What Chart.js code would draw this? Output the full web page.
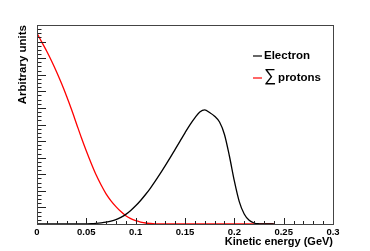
<!DOCTYPE html>
<html>
<head>
<meta charset="utf-8">
<script src="https://cdn.jsdelivr.net/npm/chart.js@4"></script>
<style>
  html, body { margin: 0; padding: 0; background: #fff; }
  #wrap { width: 370px; height: 251px; }
</style>
</head>
<body>
<div id="wrap"><canvas id="spectrum"></canvas></div>
<script>
// Kinetic energy bins (GeV)
const energy = [
  0, 0.005, 0.01, 0.015, 0.02, 0.025, 0.03, 0.035, 0.04, 0.045,
  0.05, 0.055, 0.06, 0.065, 0.07, 0.075, 0.08, 0.085, 0.09, 0.095,
  0.1, 0.105, 0.11, 0.115, 0.12, 0.125, 0.13, 0.135, 0.14, 0.145,
  0.15, 0.155, 0.16, 0.165, 0.17, 0.175, 0.18, 0.185, 0.19, 0.195,
  0.2, 0.205, 0.21, 0.215, 0.22, 0.225, 0.23, 0.235, 0.24
];
// Electron spectrum (arbitrary units)
const electron = [
  0, 0, 0, 0, 0, 0, 0, 0, 0.005, 0.008,
  0.012, 0.02, 0.04, 0.07, 0.11, 0.17, 0.26, 0.4, 0.58, 0.82,
  1.1, 1.42, 1.78, 2.17, 2.6, 3.05, 3.52, 4.0, 4.5, 5.0,
  5.5, 5.98, 6.4, 6.75, 6.88, 6.72, 6.5, 6.15, 5.4, 4.1,
  2.6, 1.35, 0.6, 0.22, 0.06, 0.01, 0, 0, 0
];
// Sum of protons (arbitrary units)
const protons = [
  11.5, 10.95, 10.4, 9.8, 9.15, 8.45, 7.7, 6.9, 6.05, 5.2,
  4.4, 3.65, 2.95, 2.35, 1.82, 1.4, 1.05, 0.75, 0.5, 0.32,
  0.2, 0.12, 0.06, 0.03, 0.01, 0, 0, 0, 0, 0,
  0, 0, 0, 0, 0, 0, 0, 0, 0, 0,
  0, 0, 0, 0, 0, 0, 0, 0, 0
];
const xTicks = [0, 0.05, 0.1, 0.15, 0.2, 0.25, 0.3];
const xTickLabels = ['0', '0.05', '0.1', '0.15', '0.2', '0.25', '0.3'];

const FONT = 'Liberation Sans, Arial, Helvetica, sans-serif';

// ROOT-like frame with ticks drawn inside, plus the legend box
const rootFrame = {
  id: 'rootFrame',
  afterDatasetsDraw(chart) {
    const { ctx, chartArea: a, scales: { x, y } } = chart;
    ctx.save();
    ctx.strokeStyle = '#222';
    ctx.lineWidth = 1;
    ctx.beginPath();
    for (let i = 0; i <= 30; i++) {
      const px = Math.round(x.getPixelForValue(i * 0.01)) + 0.5;
      const len = i % 5 === 0 ? 6 : 3;
      ctx.moveTo(px, a.bottom);
      ctx.lineTo(px, a.bottom - len);
    }
    for (let i = 0; i <= 48; i++) {
      const py = Math.round(y.getPixelForValue(i * 0.25)) + 0.5;
      const len = i % 4 === 0 ? 9 : 4.5;
      ctx.moveTo(a.left, py);
      ctx.lineTo(a.left + len, py);
    }
    ctx.stroke();
    ctx.strokeStyle = '#444';
    ctx.strokeRect(Math.round(a.left) + 0.5, Math.round(a.top) + 0.5,
      Math.round(a.right - a.left), Math.round(a.bottom - a.top));

    // legend
    const lx = 253, ly = [56, 78];
    chart.data.datasets.forEach((ds, i) => {
      ctx.strokeStyle = ds.borderColor;
      ctx.lineWidth = 1.2;
      ctx.beginPath();
      ctx.moveTo(lx, ly[i]);
      ctx.lineTo(lx + 9, ly[i]);
      ctx.stroke();
      ctx.fillStyle = '#000';
      ctx.textBaseline = 'middle';
      let text = ds.label;
      let tx = lx + 11;
      if (text.startsWith('∑')) {
        ctx.font = '17px ' + FONT;
        ctx.fillText('∑', tx, ly[i] - 2);
        tx += ctx.measureText('∑').width + 2;
        text = text.slice(1).trim();
      }
      ctx.font = 'bold 11.5px ' + FONT;
      ctx.fillText(text, tx, ly[i]);
    });
    ctx.restore();
  }
};

const toPoints = vals => energy.map((e, i) => ({ x: e, y: vals[i] }));

new Chart(document.getElementById('spectrum'), {
  type: 'line',
  data: {
    datasets: [
      { label: 'Electron', data: toPoints(electron), borderColor: '#000', borderWidth: 1.3,
        pointRadius: 0, cubicInterpolationMode: 'monotone', fill: false },
      { label: '∑ protons', data: toPoints(protons), borderColor: '#ff0000', borderWidth: 1.3,
        pointRadius: 0, cubicInterpolationMode: 'monotone', fill: false }
    ]
  },
  options: {
    responsive: true,
    maintainAspectRatio: false,
    animation: false,
    layout: { padding: { top: 25, right: 37, bottom: 0, left: 0 } },
    plugins: { legend: { display: false }, tooltip: { enabled: false } },
    scales: {
      x: {
        type: 'linear', min: 0, max: 0.3,
        afterBuildTicks: s => { s.ticks = xTicks.map(v => ({ value: v })); },
        afterFit: s => { s.height = 27; },
        ticks: {
          color: '#000', padding: 3, maxRotation: 0, autoSkip: false,
          font: { family: FONT, size: 9.5, weight: 'bold' },
          callback: (v) => xTickLabels[xTicks.indexOf(v)] ?? ''
        },
        grid: { display: false, drawTicks: false },
        border: { display: false },
        title: {
          display: true, text: 'Kinetic energy (GeV)', align: 'end', color: '#000',
          font: { family: FONT, size: 11, weight: 'bold' }, padding: { top: 0, bottom: 2 }
        }
      },
      y: {
        type: 'linear', min: 0, max: 12,
        afterFit: s => { s.width = 37; },
        ticks: { display: false },
        grid: { display: false, drawTicks: false },
        border: { display: false },
        title: {
          display: true, text: 'Arbitrary units', align: 'end', color: '#000',
          font: { family: FONT, size: 11.5, weight: 'bold' }, padding: { top: 16, bottom: 0 }
        }
      }
    }
  },
  plugins: [rootFrame]
});
</script>
</body>
</html>
